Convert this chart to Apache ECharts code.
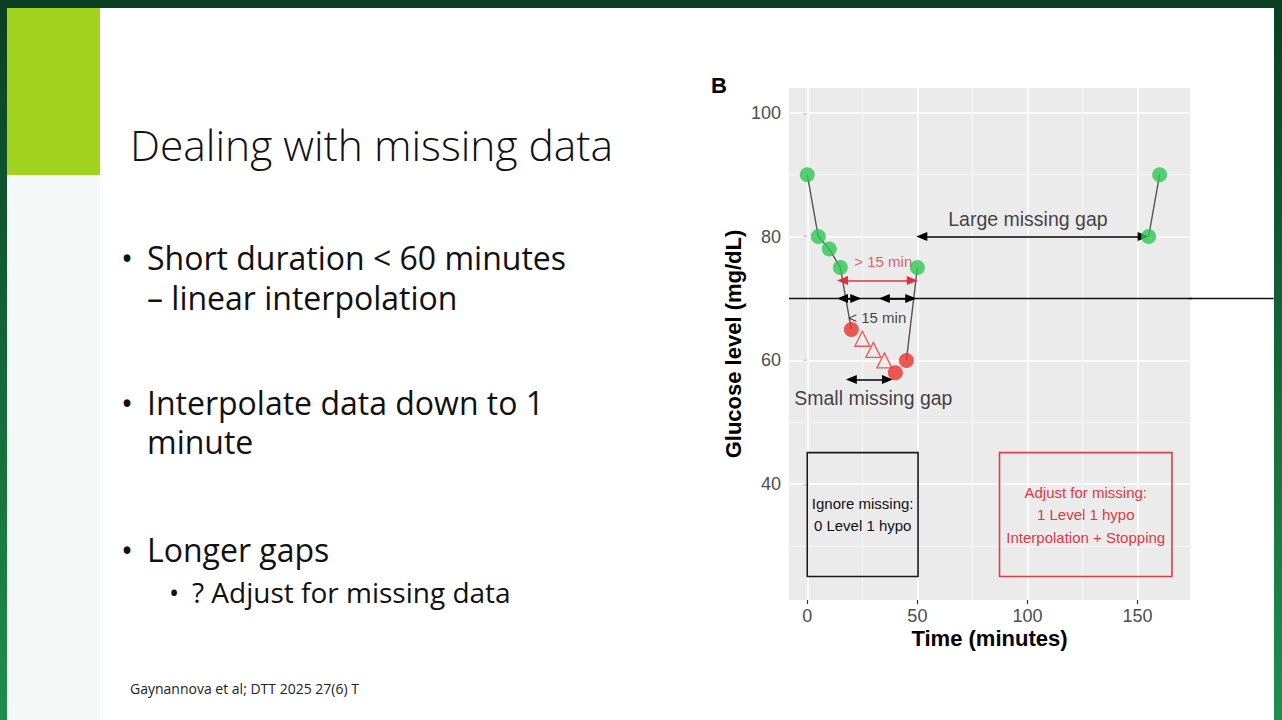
<!DOCTYPE html>
<html><head><meta charset="utf-8">
<script src="https://cdn.jsdelivr.net/npm/echarts@6/dist/echarts.min.js"></script>
<style>html,body{margin:0;padding:0;width:1282px;height:720px;overflow:hidden;background:#fff}#c{width:1282px;height:720px}</style>
</head><body><div id="c"></div>
<script>
// ---- data ----
const greenPoints = [[0,90],[5,80],[10,78],[15,75],[50,75],[155,80],[160,90]];
const redPoints = [[20,65],[40,58],[45,60]];
const interpolatedPoints = [[25,63.5],[30,61.7],[35,60]];
const traceBefore = [[0,90],[5,80],[10,78],[15,75],[20,65]];
const traceAfter = [[45,60],[50,75]];
const traceEnd = [[155,80],[160,90]];
const thresholdValue = 70;
const thresholdSpan = [-8.3, 211.8];
const xTicks = [0,50,100,150];
const yTicks = [40,60,80,100];
const xMinor = [25,75,125];
const yMinor = [30,50,70,90];
const arrowsBlack = [[[16,70],[22,70]],[[35,70],[47,70]],[[20,56.9],[36.4,56.9]],[[52,80],[152.5,80]]];
const arrowsRed = [[[16,72.9],[47.7,72.9]]];
const labelsBlackBig = [[30,54,'Small missing gap'],[100.2,82.9,'Large missing gap']];
const labelsBlackSmall = [[31.8,66.9,'< 15 min']];
const labelsRed = [[34.5,76,'> 15 min']];
const boxIgnoreX = [0,50.3], boxIgnoreY = [25.1,45.1];
const boxIgnoreText = ['Ignore missing:','0 Level 1 hypo'];
const boxAdjustX = [87.3,165.6], boxAdjustY = [25.1,45.1];
const boxAdjustText = ['Adjust for missing:','1 Level 1 hypo','Interpolation + Stopping'];
const slideTitle = 'Dealing with missing data';
const bulletLines = ['Short duration < 60 minutes','– linear interpolation','Interpolate data down to 1','minute','Longer gaps'];
const subBullet = '? Adjust for missing data';
const footer = 'Gaynannova et al; DTT 2025 27(6) T';
const xRange = [-8.3, 173.8];
const yRange = [21.3, 104];

// ---- chart ----
const chart = echarts.init(document.getElementById('c'), null, {renderer:'svg', width:1282, height:720});
const RED = '#e8352a', GREEN = '#2fc552', TXTRED = '#d83a46';
const sans = 'Liberation Sans, Arial, Helvetica, sans-serif';
const slideFont = '"Open Sans", Lato, sans-serif';

function txt(x,y,text,size,weight,color,align){
  return {type:'text', silent:true, z:1, style:{x:x,y:y,text:text,font:(weight||'normal')+' '+size+'px '+slideFont,fill:color||'#111',verticalAlign:'middle',align:align||'left'}};
}
const graphics = [
  {type:'rect', silent:true, z:-10, shape:{x:0,y:0,width:1282,height:720}, style:{fill:new echarts.graphic.LinearGradient(0,0,0,1,[{offset:0,color:'#0a3f22'},{offset:1,color:'#1f8e4d'}])}},
  {type:'rect', silent:true, z:-9, shape:{x:7,y:8,width:1267,height:712}, style:{fill:'#ffffff'}},
  {type:'rect', silent:true, z:-8, shape:{x:7,y:175,width:93,height:545}, style:{fill:'#f4f8f6'}},
  {type:'rect', silent:true, z:-8, shape:{x:7,y:8,width:93,height:167}, style:{fill:'#a2d41f'}},
  txt(130,144,slideTitle,42.5,'300','#111'),
  txt(121,257,'•',32,'normal','#111'),
  txt(147,257,bulletLines[0],32,'normal','#111'),
  txt(147,297,bulletLines[1],32,'normal','#111'),
  txt(121,402,'•',32,'normal','#111'),
  txt(147,402,bulletLines[2],32,'normal','#111'),
  txt(147,441,bulletLines[3],32,'normal','#111'),
  txt(121,549,'•',32,'normal','#111'),
  txt(147,549,bulletLines[4],32,'normal','#111'),
  txt(169,592,'•',27,'normal','#111'),
  txt(192,592,subBullet,28,'normal','#111'),
  txt(130,688,footer,14,'normal','#222'),
  {type:'text', silent:true, style:{x:711,y:85,text:'B',font:'bold 22px '+sans,fill:'#000',verticalAlign:'middle'}}
];

const gridLine = (vals, key, w) => vals.map(v => ({[key]: v, lineStyle:{color:'#ffffff', width:w, type:'solid'}}));

const option = {
  animation:false,
  graphic: graphics,
  grid:{left:789, top:88, width:401, height:512, show:true, backgroundColor:'#ebebeb', borderWidth:0, containLabel:false},
  xAxis:{type:'value', min:xRange[0], max:xRange[1],
    name:'Time (minutes)', nameLocation:'middle', nameGap:27, nameMoveOverlap:false,
    nameTextStyle:{fontFamily:sans, fontWeight:'bold', fontSize:22, color:'#000', lineHeight:22},
    axisLine:{show:false}, splitLine:{show:false},
    axisTick:{show:true, length:4, lineStyle:{color:'#333', width:1.2}, customValues:xTicks},
    axisLabel:{customValues:xTicks, margin:7, fontFamily:sans, fontSize:18, lineHeight:18, color:'#4d4d4d'}},
  yAxis:{type:'value', min:yRange[0], max:yRange[1],
    name:'Glucose level (mg/dL)', nameLocation:'middle', nameGap:45, nameRotate:90, nameMoveOverlap:false,
    nameTextStyle:{fontFamily:sans, fontWeight:'bold', fontSize:22, color:'#000'},
    axisLine:{show:false}, splitLine:{show:false},
    axisTick:{show:true, length:4, lineStyle:{color:'#333', width:1.2}, customValues:yTicks},
    axisLabel:{customValues:yTicks, margin:8, fontFamily:sans, fontSize:18, color:'#4d4d4d'}},
  series:[
    {type:'line', name:'grid', data:[], z:1, silent:true,
      markLine:{z:1, silent:true, symbol:['none','none'], label:{show:false}, animation:false,
        data:[].concat(gridLine(xMinor,'xAxis',0.7), gridLine(yMinor,'yAxis',0.7), gridLine(xTicks,'xAxis',1.6), gridLine(yTicks,'yAxis',1.6))}},
    {type:'line', name:'boxes', data:[], z:2, silent:true,
      markArea:{z:2, silent:true, animation:false, data:[
        [{coord:[boxIgnoreX[0],boxIgnoreY[1]], itemStyle:{color:'rgba(0,0,0,0)', borderColor:'#1a1a1a', borderWidth:1.6},
          label:{show:true, position:'inside', formatter:boxIgnoreText.join('\n'), fontFamily:sans, fontSize:15, lineHeight:22.7, color:'#111'}},
         {coord:[boxIgnoreX[1],boxIgnoreY[0]]}],
        [{coord:[boxAdjustX[0],boxAdjustY[1]], itemStyle:{color:'rgba(0,0,0,0)', borderColor:'#d8404a', borderWidth:1.6},
          label:{show:true, position:'inside', formatter:boxAdjustText.join('\n'), fontFamily:sans, fontSize:15, lineHeight:22.5, color:TXTRED}},
         {coord:[boxAdjustX[1],boxAdjustY[0]]}]
      ]}},
    {type:'line', data:traceBefore, symbol:'none', lineStyle:{color:'#555', width:1.4}, z:3, silent:true},
    {type:'line', data:traceAfter, symbol:'none', lineStyle:{color:'#555', width:1.4}, z:3, silent:true},
    {type:'line', data:traceEnd, symbol:'none', lineStyle:{color:'#555', width:1.4}, z:3, silent:true},
    {type:'line', name:'threshold', data:thresholdSpan.map(x=>[x,thresholdValue]), clip:false, symbol:'none',
      lineStyle:{color:'#111', width:1.6}, z:4, silent:true},
    {type:'line', data:[], z:5, silent:true,
      markLine:{z:5, silent:true, symbol:['triangle','triangle'], symbolSize:[9,11], label:{show:false}, animation:false,
        lineStyle:{color:'#000', width:1.6, type:'solid'},
        data:arrowsBlack.map(a=>[{coord:a[0]},{coord:a[1]}])}},
    {type:'line', data:[], z:5, silent:true,
      markLine:{z:5, silent:true, symbol:['triangle','triangle'], symbolSize:[9,11], label:{show:false}, animation:false,
        lineStyle:{color:'#e0323e', width:1.6, type:'solid'},
        data:arrowsRed.map(a=>[{coord:a[0]},{coord:a[1]}])}},
    {type:'scatter', data:labelsBlackBig, symbolSize:1, itemStyle:{color:'rgba(0,0,0,0)'}, z:6, silent:true,
      label:{show:true, position:'inside', formatter:p=>p.data[2], fontFamily:sans, fontSize:19.5, color:'#111'}},
    {type:'scatter', data:labelsBlackSmall, symbolSize:1, itemStyle:{color:'rgba(0,0,0,0)'}, z:6, silent:true,
      label:{show:true, position:'inside', formatter:p=>p.data[2], fontFamily:sans, fontSize:15, color:'#111'}},
    {type:'scatter', data:labelsRed, symbolSize:1, itemStyle:{color:'rgba(0,0,0,0)'}, z:6, silent:true,
      label:{show:true, position:'inside', formatter:p=>p.data[2], fontFamily:sans, fontSize:15, color:TXTRED}},
    {type:'scatter', data:interpolatedPoints, symbol:'triangle', symbolSize:15, z:7, silent:true,
      itemStyle:{color:'rgba(0,0,0,0)', borderColor:RED, borderWidth:1.3}},
    {type:'scatter', data:greenPoints, symbolSize:15, itemStyle:{color:GREEN}, z:8, silent:true},
    {type:'scatter', data:redPoints, symbolSize:15, itemStyle:{color:RED}, z:8, silent:true}
  ]
};
chart.setOption(option);
// extend the threshold line beyond the plotting panel (as in the reference), positioned via the axis scale
const pA = chart.convertToPixel({gridIndex:0}, [xRange[1], thresholdValue]);
const pB = chart.convertToPixel({gridIndex:0}, [thresholdSpan[1], thresholdValue]);
chart.setOption({graphic: graphics.concat([{type:'line', silent:true, z:10,
  shape:{x1:pA[0]-1, y1:pA[1], x2:pB[0], y2:pB[1]}, style:{stroke:'#111', lineWidth:1.6}}])});
</script></body></html>
